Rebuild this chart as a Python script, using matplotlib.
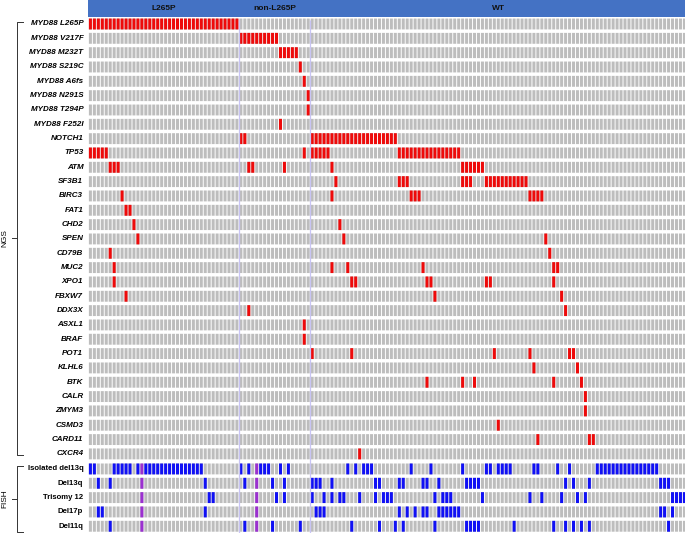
import matplotlib
matplotlib.use("Agg")
import matplotlib.pyplot as plt
from matplotlib.patches import Rectangle

plt.rcParams["font.family"] = ["Liberation Sans", "DejaVu Sans"]

# sample groups (columns, left to right)
groups = ["L265P", "non-L265P", "WT"]
group_sizes = [38, 18, 95]

# NGS rows: gene label and mutated sample columns
ngs_genes = ["MYD88 L265P", "MYD88 V217F", "MYD88 M232T", "MYD88 S219C",
             "MYD88 A6fs", "MYD88 N291S", "MYD88 T294P", "MYD88 F252I",
             "NOTCH1", "TP53", "ATM", "SF3B1", "BIRC3", "FAT1", "CHD2", "SPEN",
             "CD79B", "MUC2", "XPO1", "FBXW7", "DDX3X", "ASXL1", "BRAF", "POT1",
             "KLHL6", "BTK", "CALR", "ZMYM3", "CSMD3", "CARD11", "CXCR4"]
ngs_hits = [
    list(range(0, 38)),
    list(range(38, 48)),
    [48, 49, 50, 51, 52],
    [53],
    [54],
    [55],
    [55],
    [48],
    [38, 39] + list(range(56, 78)),
    [0, 1, 2, 3, 4, 54, 56, 57, 58, 59, 60] + list(range(78, 94)),
    [5, 6, 7, 40, 41, 49, 61, 94, 95, 96, 97, 98, 99],
    [62, 78, 79, 80, 94, 95, 96] + list(range(100, 111)),
    [8, 61, 81, 82, 83, 111, 112, 113, 114],
    [9, 10],
    [11, 63],
    [12, 64, 115],
    [5, 116],
    [6, 61, 65, 84, 117, 118],
    [6, 66, 67, 85, 86, 100, 101, 117],
    [9, 87, 119],
    [40, 120],
    [54],
    [54],
    [56, 66, 102, 111, 121, 122],
    [112, 123],
    [85, 94, 97, 117, 124],
    [125],
    [125],
    [103],
    [113, 126, 127],
    [68],
]

# FISH rows: aberration label and positive sample columns
fish_labels = ["Isolated del13q", "Del13q", "Trisomy 12", "Del17p", "Del11q"]
fish_hits = [
    [0, 1, 6, 7, 8, 9, 10, 12] + list(range(14, 29)) +
    [38, 40, 43, 44, 45, 48, 50, 65, 67, 69, 70, 71, 81, 86, 94, 100, 101,
     103, 104, 105, 106, 112, 113, 118, 121] + list(range(128, 144)),
    [2, 5, 29, 39, 46, 49, 56, 57, 58, 61, 72, 73, 78, 79, 84, 85, 88,
     95, 96, 97, 98, 120, 122, 126, 144, 145, 146],
    [30, 31, 47, 49, 56, 59, 61, 63, 64, 68, 72, 74, 75, 76, 87, 89, 90, 91,
     99, 111, 114, 119, 123, 125, 147, 148, 149, 150],
    [2, 3, 29, 57, 58, 59, 78, 80, 82, 84, 85, 88, 89, 90, 91, 92, 93,
     144, 145, 147],
    [5, 39, 46, 53, 66, 73, 77, 79, 87, 95, 96, 97, 98, 107, 117, 120, 122,
     124, 126, 146],
]
fish_na = [13, 42]

GRAY = "#bdbdbd"
RED = "#ee0a0a"
BLUE = "#1010f5"
PURPLE = "#9b30d0"
HEADER = "#4472c4"

# layout in pixels
col_pitch, col0 = 3.96, 90.4
row_pitch, row0 = 14.33, 24.0
cell_w, cell_h = 0.76, 0.76
fish_start = 31.05

n_cols = sum(group_sizes)
fig = plt.figure(figsize=(6.85, 5.33), dpi=100)
ax = fig.add_axes([0, 0, 1, 1])
ax.set_xlim(-col0 / col_pitch, (685 - col0) / col_pitch)
ax.set_ylim((533 - row0) / row_pitch, -row0 / row_pitch)
ax.axis("off")

cols = list(range(n_cols))


def draw_row(y, hits, color, na=None):
    kw = dict(bottom=y - cell_h / 2, width=cell_w, linewidth=0)
    for b in ax.bar(cols, cell_h, color=GRAY, **kw):
        b.set_snap(False)
    for b in ax.bar(hits, cell_h, color=color, **kw):
        b.set_snap(False)
    if na:
        for b in ax.bar(na, cell_h, color=PURPLE, **kw):
            b.set_snap(False)


label_x = (83.3 - col0) / col_pitch
for k, (gene, hits) in enumerate(zip(ngs_genes, ngs_hits)):
    draw_row(k, hits, RED)
    ax.text(label_x, k, gene, ha="right", va="center", fontsize=5.8,
            fontweight="bold", fontstyle="italic")

fish_rows = [fish_start + j for j in range(len(fish_labels))]
for y, lab, hits in zip(fish_rows, fish_labels, fish_hits):
    draw_row(y, hits, BLUE, fish_na)
    ax.text(label_x, y, lab, ha="right", va="center", fontsize=5.6, fontweight="bold")

# header bar with group names
y_top = -row0 / row_pitch
y_hdr = (16.7 - row0) / row_pitch
ax.add_patch(Rectangle((-0.5, y_top), n_cols + 1, y_hdr - y_top, color=HEADER, linewidth=0))
start = 0
bounds = []
for g, size in zip(groups, group_sizes):
    ax.text(start + (size - 1) / 2, (y_top + y_hdr) / 2, g, ha="center", va="center",
            fontsize=6, fontweight="bold", color="#111111")
    if start > 0:
        bounds.append(start - 0.5)
    start += size
ax.vlines(bounds, -0.3, ax.get_ylim()[0], color="#c8c4f4", linewidth=0.9, zorder=3)

# brackets on the left
xv = (17.3 - col0) / col_pitch
xr = (22.5 - col0) / col_pitch
xl = (12.0 - col0) / col_pitch
xt = (4.5 - col0) / col_pitch


def bracket(y0, y1, text):
    ym = (y0 + y1) / 2
    ax.plot([xr, xv, xv, xr], [y0, y0, y1, y1], color="#333333", linewidth=0.7)
    ax.plot([xl, xv], [ym, ym], color="#333333", linewidth=0.7)
    ax.text(xt, ym, text, rotation=90, ha="center", va="center", fontsize=6)


bracket(-0.16, len(ngs_genes) - 1 + 0.05, "NGS")
bracket(fish_rows[0] - 0.2, fish_rows[-1] + 0.4, "FISH")

fig.savefig("out.png", dpi=100)
